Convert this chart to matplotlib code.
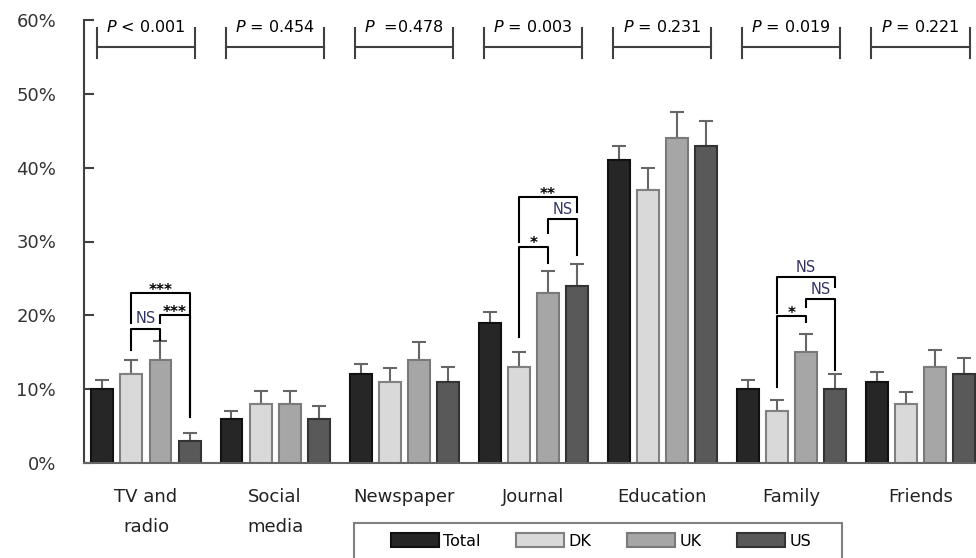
import matplotlib.pyplot as plt
from matplotlib.patches import Rectangle
import numpy as np

categories = ['TV and\nradio', 'Social\nmedia', 'Newspaper', 'Journal', 'Education', 'Family', 'Friends']
series = ['Total', 'DK', 'UK', 'US']
total = [10, 6, 12, 19, 41, 10, 11]
dk = [12, 8, 11, 13, 37, 7, 8]
uk = [14, 8, 14, 23, 44, 15, 13]
us = [3, 6, 11, 24, 43, 10, 12]
total_err = [1.2, 1.0, 1.4, 1.5, 2.0, 1.2, 1.3]
dk_err = [2.0, 1.7, 1.8, 2.0, 3.0, 1.5, 1.6]
uk_err = [2.5, 1.8, 2.4, 3.0, 3.5, 2.5, 2.3]
us_err = [1.0, 1.7, 2.0, 3.0, 3.3, 2.0, 2.2]
p_labels = ['< 0.001', '= 0.454', ' =0.478', '= 0.003', '= 0.231', '= 0.019', '= 0.221']

# pairwise tests: (group, bar a, bar b, bracket top, leg a bottom, leg b bottom, label)
pairs = [
    (0, 1, 2, 18.2, 15.3, 16.7, 'NS'),
    (0, 1, 3, 23.0, 19.0, 6.2, '***'),
    (0, 2, 3, 20.0, 19.0, 6.2, '***'),
    (3, 1, 2, 29.3, 17.0, 27.1, '*'),
    (3, 2, 3, 33.0, 31.2, 28.2, 'NS'),
    (3, 1, 3, 36.0, 30.0, 34.0, '**'),
    (5, 1, 2, 19.9, 10.3, 19.1, '*'),
    (5, 2, 3, 22.2, 21.1, 12.6, 'NS'),
    (5, 1, 3, 25.2, 20.3, 23.8, 'NS'),
]

faces = ['#262626', '#d9d9d9', '#a6a6a6', '#595959']
edges = ['#111111', '#808080', '#7a7a7a', '#333333']


def main():
    fig = plt.figure(figsize=(9.76, 5.58), dpi=100)
    ax = fig.add_axes([84 / 976, 1 - 463 / 558, (976 - 84) / 976, (463 - 20) / 558])

    x = np.arange(len(categories))
    step = 0.225
    width = 0.17
    values = [total, dk, uk, us]
    errs = [total_err, dk_err, uk_err, us_err]
    for i in range(4):
        pos = x + (i - 1.5) * step
        ax.bar(pos, values[i], width, color=faces[i], edgecolor=edges[i],
               linewidth=1.5, label=series[i], zorder=2)
        ax.errorbar(pos, values[i], yerr=[np.zeros(len(x)), errs[i]], fmt='none',
                    ecolor='#666666', elinewidth=1.5, capsize=5, capthick=1.5, zorder=1)

    # overall P values on top
    for g in range(len(categories)):
        x1 = g - 0.38
        x2 = g + 0.38
        ax.plot([x1, x2], [56.4, 56.4], color='#404040', lw=1.5, clip_on=False)
        ax.plot([x1, x1], [54.8, 58.9], color='#404040', lw=1.5, clip_on=False)
        ax.plot([x2, x2], [54.8, 58.9], color='#404040', lw=1.5, clip_on=False)
        ax.text(g, 58.0, '$P$ ' + p_labels[g], ha='center', va='bottom',
                fontsize=11.5, color='black', clip_on=False)

    # pairwise brackets
    for g, a, b, top, ya, yb, lab in pairs:
        xa = g + (a - 1.5) * step
        xb = g + (b - 1.5) * step
        ax.plot([xa, xa, xb, xb], [ya, top, top, yb], color='black', lw=1.5, zorder=3)
        if lab == 'NS':
            ax.text((xa + xb) / 2, top + 0.3, lab, ha='center', va='bottom',
                    fontsize=10.5, color='#333366')
        else:
            ax.text((xa + xb) / 2, top - 0.6, lab, ha='center', va='bottom',
                    fontsize=11, fontweight='bold', color='black')

    ax.set_xlim(-0.48, 6.43)
    ax.set_ylim(0, 60)
    ax.set_yticks(np.arange(0, 61, 10))
    ax.set_yticklabels([str(v) + '%' for v in range(0, 61, 10)])
    ax.set_xticks(x)
    ax.set_xticklabels(categories, linespacing=1.85)
    ax.tick_params(axis='y', direction='in', length=7, width=1.5, color='#404040',
                   pad=20, labelsize=13, labelcolor='#333333')
    ax.tick_params(axis='x', length=0, pad=18, labelsize=13, labelcolor='#222222')

    for s in ['top', 'right']:
        ax.spines[s].set_visible(False)
    ax.spines['left'].set_color('#404040')
    ax.spines['bottom'].set_color('#666666')
    ax.spines['left'].set_linewidth(1.5)
    ax.spines['bottom'].set_linewidth(1.5)

    fig.legend(ncol=4, loc='center', bbox_to_anchor=(601 / 976, 1 - 541 / 558),
               frameon=False, handlelength=3.0, handleheight=0.9,
               handletextpad=0.3, columnspacing=2.2, fontsize=11.5)
    # legend box, runs off the bottom edge like the original
    fig.patches.append(Rectangle((354 / 976, -0.05), (842 - 354) / 976, 0.05 + 35 / 558,
                                 transform=fig.transFigure, fill=False,
                                 edgecolor='#808080', linewidth=1.5))

    plt.savefig('out.png', dpi=100)


if __name__ == '__main__':
    main()
